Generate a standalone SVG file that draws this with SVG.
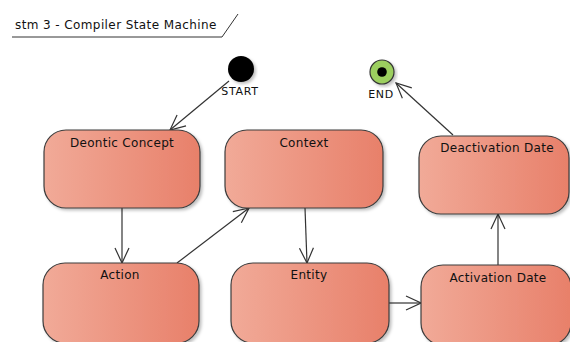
<svg xmlns="http://www.w3.org/2000/svg" width="570" height="342" viewBox="0 0 570 342">
  <style>
    .node rect { fill: url(#stateFill); stroke: #3c3c3c; stroke-width: 1.2; filter: url(#shadow); }
    .label { font-family: "DejaVu Sans", sans-serif; font-size: 12px; letter-spacing: 0.3px; fill: #111; text-anchor: middle; }
    .small { font-family: "DejaVu Sans", sans-serif; font-size: 11px; letter-spacing: 0.7px; fill: #111; text-anchor: middle; }
    .title { font-family: "DejaVu Sans", sans-serif; font-size: 12px; letter-spacing: 0.4px; fill: #111; }
    .edge { fill: none; stroke: #333; stroke-width: 1.2; marker-end: url(#openArrow); }
  </style>
  <defs>
    <linearGradient id="stateFill" x1="0" y1="0" x2="1" y2="0">
      <stop offset="0" stop-color="#F1AA98"/>
      <stop offset="1" stop-color="#E8806A"/>
    </linearGradient>
    <filter id="shadow" x="-10%" y="-10%" width="125%" height="125%">
      <feDropShadow dx="2" dy="2" stdDeviation="1.5" flood-color="#000" flood-opacity="0.25"/>
    </filter>
    <marker id="openArrow" viewBox="0 0 17 16" refX="16" refY="8" markerWidth="17" markerHeight="16" markerUnits="userSpaceOnUse" orient="auto">
      <path d="M1,1 L16,8 L1,15" fill="none" stroke="#333" stroke-width="1.2"/>
    </marker>
  </defs>
  <rect width="570" height="342" fill="#fff"/>

  <g id="frame-title">
    <path d="M12,37 L222,37 L238,14" fill="none" stroke="#333" stroke-width="1"/>
    <text class="title" x="15" y="29">stm 3 - Compiler State Machine</text>
  </g>

  <g id="connectors">
    <line class="edge" x1="229" y1="81" x2="170" y2="130"/>
    <line class="edge" x1="122" y1="208" x2="122" y2="263"/>
    <line class="edge" x1="177" y1="263" x2="249" y2="208"/>
    <line class="edge" x1="305" y1="208" x2="307" y2="263"/>
    <line class="edge" x1="389" y1="303" x2="421" y2="303"/>
    <line class="edge" x1="498" y1="265" x2="498" y2="214"/>
    <line class="edge" x1="453" y1="135" x2="396" y2="83"/>
  </g>

  <g id="start">
    <circle cx="241" cy="69" r="13" fill="#000" filter="url(#shadow)"/>
    <text class="small" x="240" y="95">START</text>
  </g>

  <g id="end">
    <circle cx="382" cy="72" r="12" fill="#9CCF5E" stroke="#333" stroke-width="1.2" filter="url(#shadow)"/>
    <circle cx="382" cy="72" r="4.8" fill="#000"/>
    <text class="small" x="381" y="98">END</text>
  </g>

  <g id="deontic-concept" class="node">
    <rect x="44" y="130" width="156" height="78" rx="22" ry="22"/>
    <text class="label" x="122" y="147">Deontic Concept</text>
  </g>

  <g id="context" class="node">
    <rect x="225" y="130" width="158" height="78" rx="22" ry="22"/>
    <text class="label" x="304" y="147">Context</text>
  </g>

  <g id="action" class="node">
    <rect x="43" y="263" width="156" height="80" rx="22" ry="22"/>
    <text class="label" x="120" y="279">Action</text>
  </g>

  <g id="entity" class="node">
    <rect x="231" y="263" width="158" height="80" rx="22" ry="22"/>
    <text class="label" x="309" y="279">Entity</text>
  </g>

  <g id="activation-date" class="node">
    <rect x="421" y="265" width="150" height="80" rx="22" ry="22"/>
    <text class="label" x="498" y="282">Activation Date</text>
  </g>

  <g id="deactivation-date" class="node">
    <rect x="419" y="136" width="150" height="78" rx="22" ry="22"/>
    <text class="label" x="497" y="152">Deactivation Date</text>
  </g>
</svg>
